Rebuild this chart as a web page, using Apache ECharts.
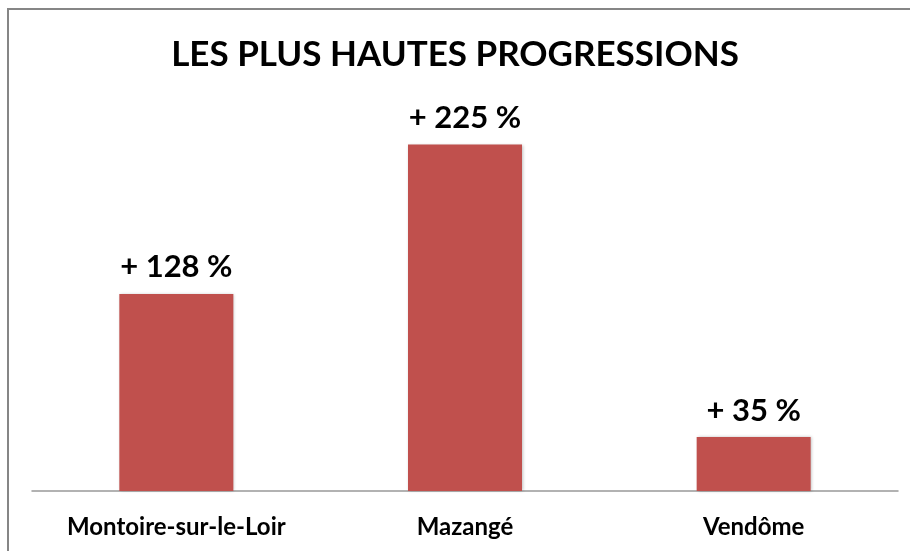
<!DOCTYPE html>
<html>
<head>
<meta charset="utf-8">
<script src="https://cdn.jsdelivr.net/npm/echarts@6/dist/echarts.min.js"></script>
<style>
  html, body { margin: 0; padding: 0; background: #fff; }
  #chart { width: 910px; height: 551px; }
</style>
</head>
<body>
<div id="chart"></div>
<script>
// données
const communes = ['Montoire-sur-le-Loir', 'Mazangé', 'Vendôme']
const progressions = [128, 225, 35]

const font = 'Lato, "Open Sans", sans-serif'

const chart = echarts.init(document.getElementById('chart'))

const option = {
  backgroundColor: '#fff',
  title: {
    text: 'LES PLUS HAUTES PROGRESSIONS',
    left: 'center',
    top: 32,
    textStyle: {
      color: '#000',
      fontFamily: font,
      fontWeight: 'bold',
      fontSize: 35,
    },
  },
  graphic: [
    {
      type: 'line',
      shape: { x1: 7, y1: 9, x2: 910, y2: 9 },
      style: { stroke: '#868686', lineWidth: 2 },
    },
    {
      type: 'line',
      shape: { x1: 8, y1: 9, x2: 8, y2: 551 },
      style: { stroke: '#868686', lineWidth: 2 },
    },
  ],
  grid: {
    left: 32,
    right: 12,
    top: 106,
    bottom: 60,
  },
  xAxis: {
    type: 'category',
    data: communes,
    axisTick: { show: false },
    axisLine: { lineStyle: { color: '#999', width: 1.5 } },
    axisLabel: {
      color: '#000',
      fontFamily: font,
      fontWeight: 'bold',
      fontSize: 24,
      margin: 24,
    },
  },
  yAxis: {
    type: 'value',
    min: 0,
    max: 250,
    show: false,
    splitLine: { show: false },
  },
  series: [
    {
      type: 'bar',
      data: progressions,
      barWidth: 114,
      itemStyle: {
        color: '#C0504D',
        shadowBlur: 3,
        shadowColor: 'rgba(0,0,0,0.25)',
        shadowOffsetX: 1,
        shadowOffsetY: 0,
      },
      label: {
        show: true,
        position: 'top',
        distance: 11,
        color: '#000',
        fontFamily: font,
        fontWeight: 'bold',
        fontSize: 31,
        formatter: function (p) {
          return '+ ' + p.value + ' %'
        },
      },
      animation: false,
    },
  ],
}

chart.setOption(option)
</script>
</body>
</html>
